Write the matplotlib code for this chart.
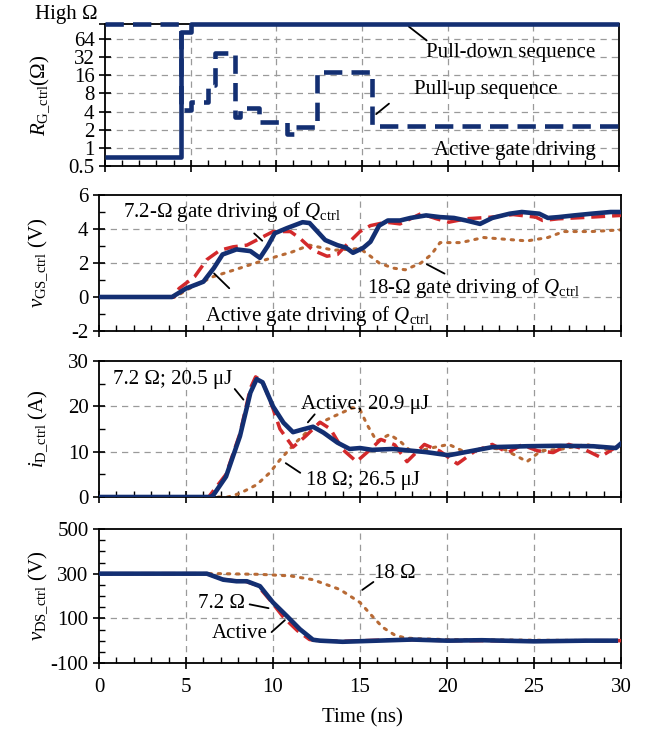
import matplotlib
matplotlib.use("Agg")
import matplotlib.pyplot as plt
from matplotlib.ticker import MultipleLocator, NullLocator, FixedLocator

plt.rcParams['font.family'] = ['Liberation Serif', 'DejaVu Serif']
plt.rcParams['mathtext.fontset'] = 'custom'
plt.rcParams['mathtext.rm'] = 'Liberation Serif'
plt.rcParams['mathtext.it'] = 'Liberation Serif:italic'
plt.rcParams['axes.unicode_minus'] = False

# ---------------- data ----------------
HIGH = 114
# panel 1: gate resistance sequences
t_pd = [0, 4.43, 5.0, 30]
r_pd = [0.7, 84, HIGH, HIGH]
t_pu = [0, 4.43, 5.0, 6.0, 6.4, 7.6, 7.9, 9.0, 10.6, 11.1, 12.4, 15.6, 30]
r_pu = [HIGH, 4.3, 5.8, 11, 37, 3.3, 4.6, 2.7, 1.7, 2.2, 18, 2.3, 2.3]
r_ticks = [0.5, 1, 2, 4, 8, 16, 32, 64, HIGH]
r_ticklabels = ['0.5', '1', '2', '4', '8', '16', '32', '64', '']
high_label = 'High Ω'

# panel 2: vGS
t_vgs_act = [0, 4.2, 5.0, 6.0, 6.6, 7.1, 7.9, 8.7, 9.25, 9.7, 10.1, 10.8, 11.7, 12.1, 13.0, 13.7,
             14.2, 14.6, 15.2, 15.6, 16.1, 16.6, 17.3, 17.9, 18.8, 19.6, 20.4, 21.1, 21.9, 22.6,
             23.6, 24.3, 25.3, 25.8, 26.4, 27.3, 28.3, 29.4, 30]
v_vgs_act = [0, 0, 0.5, 0.9, 1.7, 2.5, 2.8, 2.7, 2.3, 3.0, 3.75, 4.05, 4.4, 4.35, 3.35, 3.05,
             2.9, 2.6, 2.9, 3.25, 4.2, 4.5, 4.5, 4.65, 4.8, 4.7, 4.65, 4.5, 4.3, 4.65,
             4.9, 5.0, 4.9, 4.65, 4.7, 4.8, 4.9, 5.0, 5.0]
t_vgs_72 = [0, 4.3, 4.6, 5.5, 6.2, 6.95, 7.7, 8.5, 9.25, 10.0, 11.0, 11.55, 12.3, 13.1, 13.7, 14.4,
            15.0, 15.6, 16.5, 17.3, 18.5, 19.4, 20.1, 21.1, 22.6, 23.8, 25.1, 25.5, 26.4, 28.3, 30]
v_vgs_72 = [0, 0, 0.5, 1.2, 2.2, 2.75, 2.95, 3.05, 3.45, 3.85, 3.85, 3.45, 2.75, 2.4, 2.5, 3.25,
            3.85, 4.2, 4.4, 4.3, 4.9, 4.6, 4.4, 4.6, 4.7, 4.85, 4.7, 4.5, 4.6, 4.7, 4.8]
t_vgs_18 = [0, 4.4, 5.0, 6.57, 8.1, 9.6, 11.1, 12.1, 13.5, 15.0, 15.6, 16.1, 16.9, 17.6, 18.5,
            19.1, 19.6, 20.8, 22.1, 23.3, 24.6, 25.8, 26.7, 28.3, 30]
v_vgs_18 = [0, 0, 0.4, 1.2, 1.7, 2.2, 2.65, 3.05, 2.75, 2.85, 2.4, 2.0, 1.7, 1.6, 2.0,
            2.5, 3.2, 3.2, 3.5, 3.4, 3.3, 3.5, 3.85, 3.85, 3.95]

# panel 3: iD
t_id_act = [0, 6.4, 6.57, 7.3, 8.1, 8.7, 9.06, 9.4, 10.0, 10.6, 11.15, 11.7, 12.3, 12.9, 13.7,
            14.4, 15.0, 15.7, 16.9, 18.8, 20.1, 21.2, 22.6, 24.6, 26.5, 28.4, 29.7, 30]
i_id_act = [0, 0, 0.4, 4.5, 13.4, 23, 26, 25.3, 20, 16.4, 14.3, 14.9, 15.5, 14.2, 12,
            10.6, 10.8, 10.4, 10.6, 9.9, 9.2, 10.0, 11.0, 11.2, 11.3, 11.2, 10.8, 11.8]
t_id_72 = [0, 6.3, 7.3, 8.1, 8.7, 9.0, 9.4, 10.0, 10.4, 11.15, 11.9, 12.7, 13.3, 14.0, 14.8,
           15.6, 16.2, 17.0, 17.7, 18.7, 19.6, 20.6, 21.6, 22.6, 23.5, 24.3, 25.2, 26.1, 27.0,
           27.9, 28.8, 29.5, 30]
i_id_72 = [0, 0, 5, 14, 24, 26.5, 25.5, 19.5, 15, 11, 13.5, 16.5, 15, 10.5, 7.8,
           10.5, 12.7, 11.5, 7.8, 11.6, 10.1, 7.3, 10.1, 11.6, 9.8, 11.5, 10.2, 9.8, 11.6,
           10.5, 8.8, 10.5, 11.6]
t_id_18 = [0, 7.4, 8.1, 9.06, 9.8, 10.4, 11.3, 12.3, 13.5, 14.6, 15.0, 15.4, 15.96, 16.7, 17.3,
           18.0, 19.2, 20.1, 21.1, 22.2, 23.3, 24.6, 25.4, 26.5, 28.0, 29.1, 30]
i_id_18 = [0, 0, 0.8, 2.7, 5.3, 8.2, 12, 15.6, 17.8, 19.7, 19.3, 16, 12.3, 13.8, 12.3,
           9.8, 10.9, 11.6, 9.8, 10.9, 10.5, 7.8, 10.2, 10.5, 11.6, 10.5, 11]

# panel 4: vDS
t_vds_act = [0, 6.2, 7.14, 7.9, 8.5, 9.25, 10.0, 10.8, 11.55, 12.3, 12.7, 14, 16, 18, 20, 22, 25, 28, 29.7]
v_vds_act = [300, 300, 273, 266, 266, 244, 171, 110, 51, 4, 0, -5, 0, 5, 0, 2, -3, 0, 0]
t_vds_72 = [0, 6.2, 7.1, 7.8, 8.4, 9.1, 9.9, 10.6, 11.4, 12.1, 12.6, 14, 16, 18, 20, 22, 25, 28, 30]
v_vds_72 = [300, 300, 275, 268, 266, 248, 175, 105, 45, 5, 0, -3, 2, 4, 0, 0, -2, 0, 0]
t_vds_18 = [0, 7, 9.25, 11, 12.3, 13.85, 15.0, 15.7, 16.3, 17.0, 17.6, 18.5, 20, 25, 30]
v_vds_18 = [300, 300, 297, 290, 273, 229, 171, 110, 60, 25, 12, 8, 5, 2, 0]

x_ticks = [0, 5, 10, 15, 20, 25, 30]
vds_ticks = [-100, 100, 300, 500]

# ---------------- style ----------------
NAVY = '#132f72'
RED = '#d3292b'
ORANGE = '#b86a35'
GRID = '#9a9a9a'
FS = 15

fig = plt.figure(figsize=(6.51, 7.29), dpi=100)
W, H = 651, 729


def add_ax(x0, x1, y0, y1):
    return fig.add_axes([x0 / W, 1 - y1 / H, (x1 - x0) / W, (y1 - y0) / H])


ax1 = add_ax(105, 619, 24, 166)
ax2 = add_ax(99, 621, 195, 331)
ax3 = add_ax(99, 621, 361, 497)
ax4 = add_ax(99, 621, 529, 663)
axes = [ax1, ax2, ax3, ax4]

for ax in axes:
    ax.set_xlim(0, 30)
    ax.xaxis.set_major_locator(FixedLocator(x_ticks))
    ax.xaxis.set_minor_locator(MultipleLocator(1))
    ax.tick_params(which='major', direction='inout', length=9, width=1.2, labelsize=FS, pad=3)
    ax.tick_params(which='minor', direction='in', length=4, width=1.0)
    ax.tick_params(top=False, right=False, which='both')
    for s in ax.spines.values():
        s.set_linewidth(1.3)
    for xv in x_ticks[1:-1]:
        ax.axvline(xv, color=GRID, lw=0.9, ls=(0, (5, 4)), zorder=0)
    if ax is not ax4:
        ax.tick_params(labelbottom=False)

LEAD = dict(arrowstyle='-', color='black', lw=1.3)
DOT = dict(color=ORANGE, lw=2.2, ls=(0, (0.8, 2.2)), dash_capstyle='round', zorder=2)
DASH = dict(color=RED, lw=2.5, ls=(0, (4, 2)), zorder=3)
SOLID = dict(color=NAVY, lw=3.3, zorder=4)

# ---- panel 1 ----
ax1.set_yscale('log', base=2)
ax1.set_ylim(0.5, HIGH)
ax1.yaxis.set_major_locator(FixedLocator(r_ticks))
ax1.yaxis.set_minor_locator(NullLocator())
ax1.set_yticklabels(r_ticklabels)
ax1.text(-0.014, 1.065, high_label, transform=ax1.transAxes, fontsize=FS, ha='right', va='center')
for yv in r_ticks[1:-1]:
    ax1.axhline(yv, color=GRID, lw=0.9, ls=(0, (5, 4)), zorder=0)
ax1.step(t_pd, r_pd, where='post', color=NAVY, lw=3.3, solid_capstyle='butt', clip_on=False, zorder=5)
ax1.step(t_pu, r_pu, where='post', color=NAVY, lw=3.3, ls=(0, (4, 2)), clip_on=False, zorder=6)
ax1.text(23.7, 38, 'Pull-down sequence', fontsize=FS, ha='center', va='center')
ax1.text(22.2, 9.2, 'Pull-up sequence', fontsize=FS, ha='center', va='center')
ax1.text(23.9, 0.9, 'Active gate driving', fontsize=FS, ha='center', va='center')
ax1.annotate('', xy=(17.6, HIGH * 0.97), xytext=(18.9, 57), arrowprops=LEAD)
ax1.annotate('', xy=(15.7, 3.4), xytext=(16.7, 5.8), arrowprops=LEAD)
ax1.set_ylabel(r'$R_{\mathrm{G\_ctrl}}$(Ω)', fontsize=FS)
ax1.yaxis.set_label_coords(-0.103, 0.5)

# ---- panel 2 ----
ax2.set_ylim(-2, 6)
ax2.yaxis.set_major_locator(MultipleLocator(2))
ax2.yaxis.set_minor_locator(MultipleLocator(1))
for yv in [0, 2, 4]:
    ax2.axhline(yv, color=GRID, lw=0.9, ls=(0, (5, 4)), zorder=0)
ax2.plot(t_vgs_18, v_vgs_18, **DOT)
ax2.plot(t_vgs_72, v_vgs_72, **DASH)
ax2.plot(t_vgs_act, v_vgs_act, **SOLID)
ax2.text(1.4, 5.0, r'7.2-Ω gate driving of $Q_{\mathrm{ctrl}}$', fontsize=FS, ha='left', va='center')
ax2.text(6.1, -1.1, r'Active gate driving of $Q_{\mathrm{ctrl}}$', fontsize=FS, ha='left', va='center')
ax2.text(15.4, 0.5, r'18-Ω gate driving of $Q_{\mathrm{ctrl}}$', fontsize=FS, ha='left', va='center')
ax2.annotate('', xy=(8.8, 3.85), xytext=(9.5, 3.2), arrowprops=LEAD)
ax2.annotate('', xy=(6.5, 1.5), xytext=(7.6, 0.4), arrowprops=LEAD)
ax2.annotate('', xy=(18.7, 2.0), xytext=(20.0, 1.3), arrowprops=LEAD)
ax2.set_ylabel(r'$v_{\mathrm{GS\_ctrl}}$ (V)', fontsize=FS)
ax2.yaxis.set_label_coords(-0.094, 0.5)

# ---- panel 3 ----
ax3.set_ylim(0, 30)
ax3.yaxis.set_major_locator(MultipleLocator(10))
ax3.yaxis.set_minor_locator(MultipleLocator(5))
for yv in [10, 20]:
    ax3.axhline(yv, color=GRID, lw=0.9, ls=(0, (5, 4)), zorder=0)
ax3.plot(t_id_18, i_id_18, **DOT)
ax3.plot(t_id_72, i_id_72, **DASH)
ax3.plot(t_id_act, i_id_act, **SOLID)
ax3.text(0.8, 26.0, '7.2 Ω; 20.5 μJ', fontsize=FS, ha='left', va='center')
ax3.text(11.6, 20.5, 'Active; 20.9 μJ', fontsize=FS, ha='left', va='center')
ax3.text(11.9, 3.7, '18 Ω; 26.5 μJ', fontsize=FS, ha='left', va='center')
ax3.annotate('', xy=(7.7, 24.3), xytext=(8.4, 21.0), arrowprops=LEAD)
ax3.annotate('', xy=(12.5, 18.7), xytext=(11.9, 16.0), arrowprops=LEAD)
ax3.annotate('', xy=(10.6, 7.8), xytext=(11.7, 5.0), arrowprops=LEAD)
ax3.set_ylabel(r'$i_{\mathrm{D\_ctrl}}$ (A)', fontsize=FS)
ax3.yaxis.set_label_coords(-0.094, 0.5)

# ---- panel 4 ----
ax4.set_ylim(-100, 500)
ax4.yaxis.set_major_locator(FixedLocator(vds_ticks))
ax4.yaxis.set_minor_locator(MultipleLocator(50))
for yv in vds_ticks[1:-1]:
    ax4.axhline(yv, color=GRID, lw=0.9, ls=(0, (5, 4)), zorder=0)
ax4.plot(t_vds_18, v_vds_18, **DOT)
ax4.plot(t_vds_72, v_vds_72, **DASH)
ax4.plot(t_vds_act, v_vds_act, **SOLID)
ax4.text(15.8, 300, '18 Ω', fontsize=FS, ha='left', va='center')
ax4.text(5.7, 165, '7.2 Ω', fontsize=FS, ha='left', va='center')
ax4.text(6.5, 30, 'Active', fontsize=FS, ha='left', va='center')
ax4.annotate('', xy=(15.9, 270), xytext=(15.0, 220), arrowprops=LEAD)
ax4.annotate('', xy=(8.5, 165), xytext=(9.9, 143), arrowprops=LEAD)
ax4.annotate('', xy=(9.8, 30), xytext=(10.8, 100), arrowprops=LEAD)
ax4.set_ylabel(r'$v_{\mathrm{DS\_ctrl}}$ (V)', fontsize=FS)
ax4.yaxis.set_label_coords(-0.094, 0.5)
ax4.tick_params(axis='x', pad=6)

fig.text(362 / W, 1 - 718 / H, 'Time (ns)', fontsize=FS, ha='center', va='center')

fig.savefig('out.png', dpi=100)
